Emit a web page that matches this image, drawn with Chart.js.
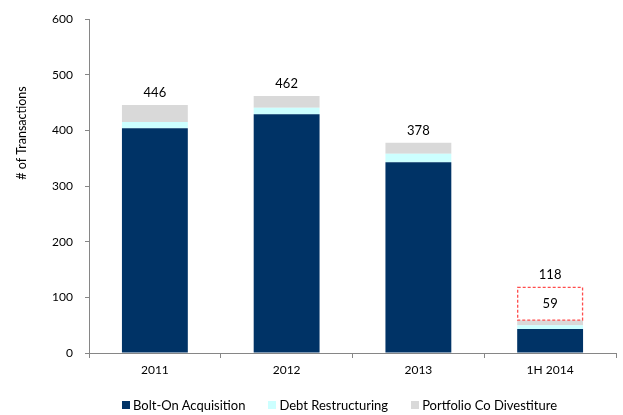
<!DOCTYPE html>
<html>
<head>
<meta charset="utf-8">
<script src="https://cdn.jsdelivr.net/npm/chart.js@4"></script>
<style>
  html, body { margin: 0; padding: 0; background: #fff; }
  #wrap { position: relative; width: 623px; height: 415px; }
  #chart { position: absolute; left: 0; top: 0; }
  #legend { position: absolute; left: 122px; top: 397px; display: flex; font: 13px Lato, sans-serif; color: #000; line-height: 16px; }
  .item { display: flex; align-items: center; margin-right: 23px; white-space: nowrap; }
  .swatch { width: 8px; height: 8px; margin-right: 3px; }
</style>
</head>
<body>
<div id="wrap">
  <canvas id="chart" width="623" height="415"></canvas>
  <div id="legend"></div>
</div>
<script>
// Sponsor-backed transaction counts by type
const categories = ['2011', '2012', '2013', '1H 2014'];
const boltOn = [404, 429, 343, 43];
const debtRestructuring = [11, 12, 15, 7];
const portfolioDivestiture = [31, 21, 20, 9];
// Second-half run-rate added on top of the 1H 2014 count
const projected = [null, null, null, 59];
const yTickValues = [0, 100, 200, 300, 400, 500, 600];

const seriesLabels = ['Bolt-On Acquisition', 'Debt Restructuring', 'Portfolio Co Divestiture'];
const seriesColors = ['#003366', '#CCFFFF', '#D9D9D9'];
const axisColor = '#868686';
const fontFamily = 'Lato';

const totals = categories.map((_, i) => boltOn[i] + debtRestructuring[i] + portfolioDivestiture[i]);

// Value labels, projection outline and y-axis caption
const annotations = {
  id: 'annotations',
  afterDatasetsDraw(chart) {
    const { ctx, scales: { x, y } } = chart;
    const projMeta = chart.getDatasetMeta(3);
    ctx.save();
    ctx.font = '13px ' + fontFamily;
    ctx.fillStyle = '#000';
    ctx.textAlign = 'center';
    categories.forEach((c, i) => {
      const cx = x.getPixelForValue(i);
      if (projected[i] == null) {
        ctx.textBaseline = 'alphabetic';
        ctx.fillText(String(totals[i]), cx, y.getPixelForValue(totals[i]) - 8);
      } else {
        const bar = projMeta.data[i];
        const left = bar.x - bar.width / 2;
        ctx.save();
        ctx.setLineDash([3, 2]);
        ctx.strokeStyle = '#FF4D4D';
        ctx.lineWidth = 1.3;
        ctx.strokeRect(left + 0.5, bar.y, bar.width - 1, bar.base - bar.y);
        ctx.restore();
        ctx.textBaseline = 'middle';
        ctx.fillText(String(totals[i]), cx, (bar.y + bar.base) / 2);
        ctx.textBaseline = 'alphabetic';
        ctx.fillText(String(totals[i] + projected[i]), cx, bar.y - 8);
      }
    });
    ctx.restore();
  },
  afterDraw(chart) {
    const { ctx } = chart;
    ctx.save();
    ctx.font = '12.5px ' + fontFamily;
    ctx.fillStyle = '#000';
    ctx.textAlign = 'center';
    ctx.textBaseline = 'middle';
    ctx.translate(22, 133);
    ctx.rotate(-Math.PI / 2);
    ctx.fillText('# of Transactions', 0, 0);
    ctx.restore();
  }
};

new Chart(document.getElementById('chart'), {
  type: 'bar',
  data: {
    labels: categories,
    datasets: [
      { label: seriesLabels[0], data: boltOn, backgroundColor: seriesColors[0] },
      { label: seriesLabels[1], data: debtRestructuring, backgroundColor: seriesColors[1] },
      { label: seriesLabels[2], data: portfolioDivestiture, backgroundColor: seriesColors[2] },
      { label: 'Projected', data: projected, backgroundColor: 'rgba(0,0,0,0)', borderWidth: 0 }
    ]
  },
  options: {
    responsive: false,
    animation: false,
    devicePixelRatio: 1,
    categoryPercentage: 0.5,
    barPercentage: 1,
    layout: { padding: { left: 0, top: 14, right: 7, bottom: 0 } },
    plugins: { legend: { display: false }, tooltip: { enabled: false } },
    scales: {
      x: {
        stacked: true,
        afterFit(scale) { scale.height = 62; },
        grid: { display: true, drawOnChartArea: false, drawTicks: true, tickLength: 5, color: axisColor, offset: true },
        border: { display: true, color: axisColor, width: 1 },
        ticks: { color: '#000', font: { family: fontFamily, size: 12 }, padding: 5, maxRotation: 0 }
      },
      y: {
        stacked: true,
        min: yTickValues[0],
        max: yTickValues[yTickValues.length - 1],
        afterFit(scale) { scale.width = 89; },
        afterBuildTicks(scale) { scale.ticks = yTickValues.map(v => ({ value: v })); },
        grid: { display: true, drawOnChartArea: false, drawTicks: true, tickLength: 4, color: axisColor },
        border: { display: true, color: axisColor, width: 1 },
        ticks: { color: '#000', font: { family: fontFamily, size: 12 }, padding: 12 }
      }
    }
  },
  plugins: [annotations]
});

// Legend for the three transaction types
const legend = document.getElementById('legend');
seriesLabels.forEach((label, i) => {
  const item = document.createElement('div');
  item.className = 'item';
  const sw = document.createElement('span');
  sw.className = 'swatch';
  sw.style.background = seriesColors[i];
  const txt = document.createElement('span');
  txt.textContent = label;
  item.appendChild(sw);
  item.appendChild(txt);
  legend.appendChild(item);
});
</script>
</body>
</html>
